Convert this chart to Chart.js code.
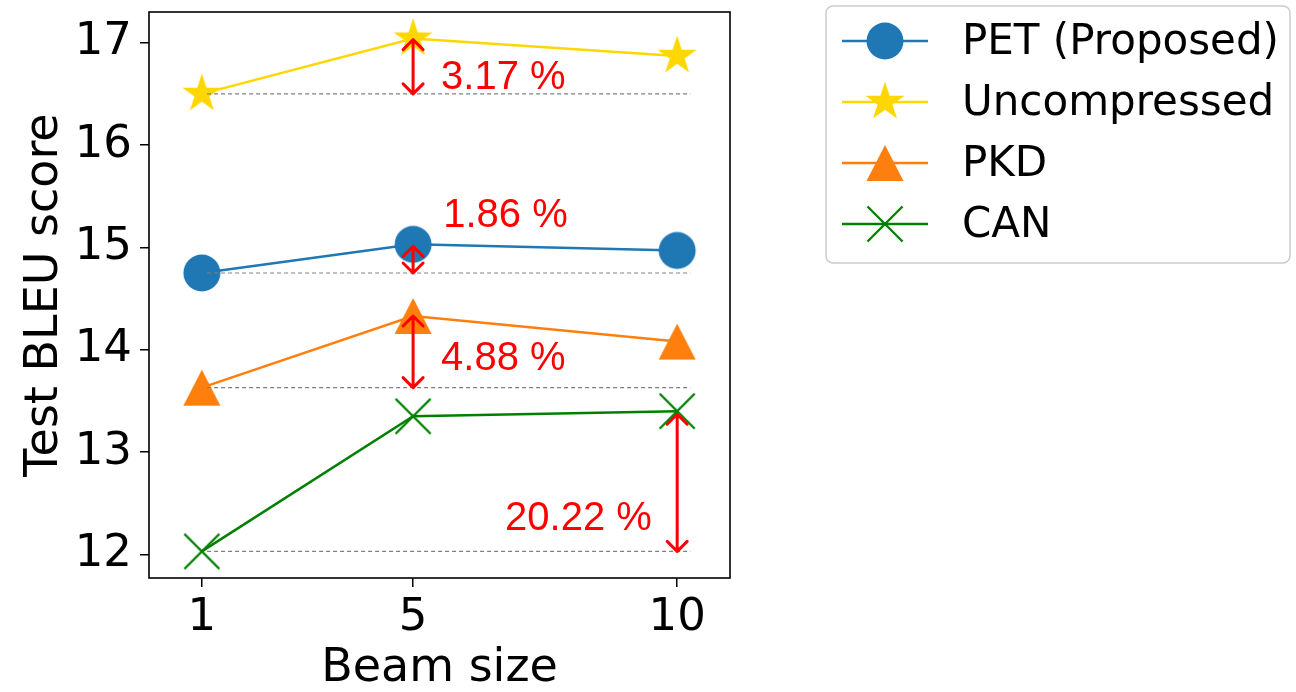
<!DOCTYPE html>
<html>
<head>
<meta charset="utf-8">
<script src="https://cdn.jsdelivr.net/npm/chart.js@4.4.0/dist/chart.umd.min.js"></script>
<style>
  html, body { margin: 0; padding: 0; background: #fff; }
  #wrap { width: 1296px; height: 692px; }
</style>
</head>
<body>
<div id="wrap"><canvas id="bleu" width="1296" height="692"></canvas></div>
<script>
// x axis: beam size
const beamSizes = [1, 5, 10]
const xTicks = [1, 5, 10]
const yTicks = [12, 13, 14, 15, 16, 17]

// test BLEU per model
const petScores = [14.75, 15.03, 14.97]
const uncompressedScores = [16.50, 17.04, 16.87]
const pkdScores = [13.63, 14.33, 14.08]
const canScores = [12.03, 13.35, 13.40]

// gray dashed reference lines (beam size 1 score)
const baselineValues = [16.50, 14.75, 13.63, 12.03]
const baselineSpan = [1.1, 10.25]

// red double arrows + their gap labels
const arrowX = [5, 5, 5, 10]
const arrowFrom = [16.50, 14.75, 13.63, 12.03]
const arrowTo = [17.03, 15.01, 14.33, 13.37]
const gapLabels = ['3.17 %', '1.86 %', '4.88 %', '20.22 %']
const gapLabelX = [5.53, 5.57, 5.53, 9.52]
const gapLabelY = [16.66, 15.31, 13.91, 12.35]
const gapLabelAlign = ['left', 'left', 'left', 'right']

const BLUE = '#1f77b4'
const GOLD = '#ffd700'
const ORANGE = '#ff7f0e'
const GREEN = '#008000'

// matplotlib-like markers drawn once into small canvases
function markerCanvas(draw) {
  const c = document.createElement('canvas')
  c.width = 50
  c.height = 50
  const ctx = c.getContext('2d')
  ctx.translate(25, 25)
  draw(ctx)
  return c
}

const circleMarker = markerCanvas(ctx => {
  ctx.fillStyle = BLUE
  ctx.beginPath()
  ctx.arc(0, 0, 18.5, 0, Math.PI * 2)
  ctx.fill()
})

const starMarker = markerCanvas(ctx => {
  const R = 20.5, r = R * 0.382
  ctx.fillStyle = GOLD
  ctx.beginPath()
  for (let i = 0; i < 10; i++) {
    const rad = i % 2 === 0 ? R : r
    const a = -Math.PI / 2 + i * Math.PI / 5
    const px = Math.cos(a) * rad, py = Math.sin(a) * rad
    if (i === 0) ctx.moveTo(px, py)
    else ctx.lineTo(px, py)
  }
  ctx.closePath()
  ctx.fill()
})

const triangleMarker = markerCanvas(ctx => {
  ctx.fillStyle = ORANGE
  ctx.beginPath()
  ctx.moveTo(0, -18)
  ctx.lineTo(-18.5, 18)
  ctx.lineTo(18.5, 18)
  ctx.closePath()
  ctx.fill()
})

const crossMarker = markerCanvas(ctx => {
  ctx.strokeStyle = GREEN
  ctx.lineWidth = 2.4
  ctx.beginPath()
  ctx.moveTo(-17.5, -17.5)
  ctx.lineTo(17.5, 17.5)
  ctx.moveTo(-17.5, 17.5)
  ctx.lineTo(17.5, -17.5)
  ctx.stroke()
})

const toPoints = (ys) => beamSizes.map((b, i) => ({ x: b, y: ys[i] }))

function seriesDataset(label, scores, color, marker) {
  return {
    label: label,
    data: toPoints(scores),
    borderColor: color,
    backgroundColor: color,
    borderWidth: 2.5,
    pointStyle: marker,
    pointRadius: 18,
    tension: 0,
    clip: false,
    order: 1,
  }
}

const series = [
  seriesDataset('PET (Proposed)', petScores, BLUE, circleMarker),
  seriesDataset('Uncompressed', uncompressedScores, GOLD, starMarker),
  seriesDataset('PKD', pkdScores, ORANGE, triangleMarker),
  seriesDataset('CAN', canScores, GREEN, crossMarker),
]

const baselines = baselineValues.map(v => ({
  label: '',
  data: baselineSpan.map(x => ({ x: x, y: v })),
  borderColor: '#808080',
  borderWidth: 1.1,
  borderDash: [4, 3],
  pointRadius: 0,
  order: 0,
}))

// arrows, labels and the full frame
const annotate = {
  id: 'annotate',
  afterDatasetsDraw(chart) {
    const { ctx, scales: { x, y } } = chart
    ctx.save()
    ctx.strokeStyle = '#ff0000'
    ctx.fillStyle = '#ff0000'
    ctx.lineWidth = 3
    ctx.lineCap = 'round'
    ctx.lineJoin = 'round'
    const head = 10
    arrowX.forEach((ax, i) => {
      const px = x.getPixelForValue(ax)
      const y1 = y.getPixelForValue(arrowFrom[i])
      const y2 = y.getPixelForValue(arrowTo[i])
      ctx.beginPath()
      ctx.moveTo(px, y1)
      ctx.lineTo(px, y2)
      ctx.moveTo(px - head, y2 + head)
      ctx.lineTo(px, y2)
      ctx.lineTo(px + head, y2 + head)
      ctx.moveTo(px - head, y1 - head)
      ctx.lineTo(px, y1)
      ctx.lineTo(px + head, y1 - head)
      ctx.stroke()
    })
    ctx.font = '40px "Liberation Sans", Arial, sans-serif'
    ctx.textBaseline = 'middle'
    gapLabels.forEach((t, i) => {
      ctx.textAlign = gapLabelAlign[i]
      ctx.fillText(t, x.getPixelForValue(gapLabelX[i]), y.getPixelForValue(gapLabelY[i]))
    })
    ctx.restore()
  },
  afterDraw(chart) {
    const { ctx, chartArea: a } = chart
    ctx.save()
    ctx.strokeStyle = '#000'
    ctx.lineWidth = 1.6
    ctx.strokeRect(a.left, a.top, a.right - a.left, a.bottom - a.top)
    ctx.restore()
  }
}

// legend box with line + marker samples
const sideLegend = {
  id: 'sideLegend',
  afterDraw(chart) {
    const ctx = chart.ctx
    ctx.save()
    ctx.strokeStyle = '#cccccc'
    ctx.lineWidth = 1.5
    ctx.fillStyle = 'rgba(255,255,255,0.8)'
    ctx.beginPath()
    ctx.roundRect(826, 6, 464, 257, 7)
    ctx.fill()
    ctx.stroke()
    ctx.font = '42px "DejaVu Sans", sans-serif'
    ctx.textBaseline = 'middle'
    ctx.textAlign = 'left'
    series.forEach((ds, i) => {
      const cy = 41 + i * 61
      ctx.strokeStyle = ds.borderColor
      ctx.lineWidth = 2.5
      ctx.beginPath()
      ctx.moveTo(842, cy)
      ctx.lineTo(928, cy)
      ctx.stroke()
      const m = ds.pointStyle
      ctx.drawImage(m, 885 - m.width / 2, cy - m.height / 2)
      ctx.fillStyle = '#000'
      ctx.fillText(ds.label, 962, cy + 2)
    })
    ctx.restore()
  }
}

const axisFont = { family: '"DejaVu Sans", sans-serif', size: 45 }

new Chart(document.getElementById('bleu'), {
  type: 'line',
  data: { datasets: series.concat(baselines) },
  options: {
    responsive: false,
    animation: false,
    devicePixelRatio: 1,
    layout: { autoPadding: false, padding: { left: 0, top: 12, right: 566, bottom: 0 } },
    plugins: { legend: { display: false }, tooltip: { enabled: false } },
    scales: {
      x: {
        type: 'linear',
        min: 0,
        max: 11,
        afterBuildTicks: (s) => { s.ticks = xTicks.map(v => ({ value: v })) },
        afterFit: (s) => { s.height = 114 },
        grid: { drawOnChartArea: false, drawTicks: true, tickLength: 9, color: '#000', lineWidth: 1.5 },
        border: { display: false },
        ticks: { color: '#000', font: axisFont, padding: 4, maxRotation: 0 },
        title: { display: true, text: 'Beam size', color: '#000', font: { family: axisFont.family, size: 46, lineHeight: 1 }, padding: { top: 0, bottom: 0 } },
      },
      y: {
        type: 'linear',
        min: 11.77,
        max: 17.3,
        afterBuildTicks: (s) => { s.ticks = yTicks.map(v => ({ value: v })) },
        afterFit: (s) => { s.width = 149; s.paddingTop = 0; s.paddingBottom = 0 },
        grid: { drawOnChartArea: false, drawTicks: true, tickLength: 9, color: '#000', lineWidth: 1.5 },
        border: { display: false },
        ticks: { color: '#000', font: { family: axisFont.family, size: 45, lineHeight: 0.1 }, padding: 8 },
        title: { display: true, text: 'Test BLEU score', color: '#000', font: { family: axisFont.family, size: 46, lineHeight: 1 }, padding: { top: 22, bottom: 0 } },
      },
    },
  },
  plugins: [annotate, sideLegend],
})
</script>
</body>
</html>
